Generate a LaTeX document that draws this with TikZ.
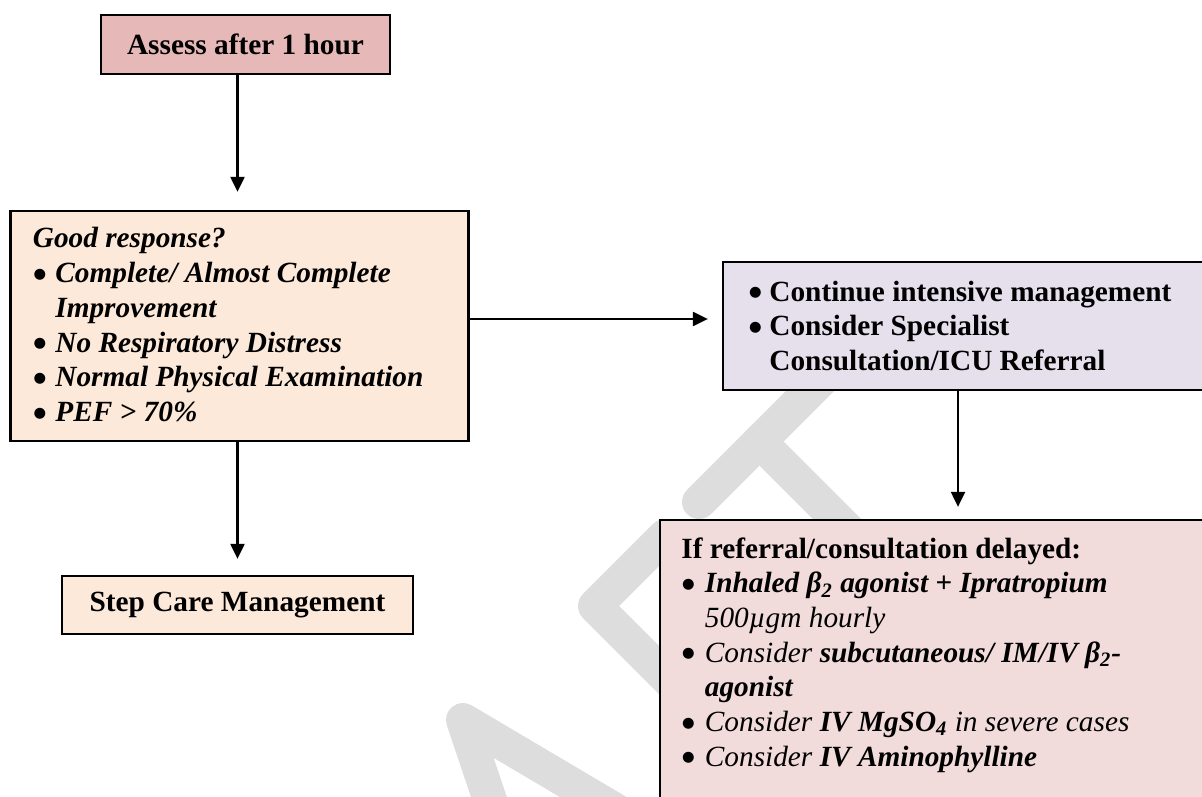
\documentclass[tikz,border=0pt]{standalone}
\usepackage{fontspec}
\setmainfont{Liberation Serif}
\newfontfamily\bulletfont{DejaVu Sans}
\usetikzlibrary{arrows.meta}
\definecolor{boxrose}{RGB}{230,184,183}
\definecolor{boxpeach}{RGB}{253,233,217}
\definecolor{boxlilac}{RGB}{229,224,236}
\definecolor{boxpink}{RGB}{242,220,219}
\definecolor{wmgray}{RGB}{221,221,221}
% bullet followed by the hanging indent of a list line
\newcommand{\itm}[1][11pt]{\makebox[#1][l]{\hspace*{0.4pt}\raisebox{2.2pt}{\bulletfont\fontsize{7.2pt}{8pt}\selectfont ●}}}
\begin{document}
\begin{tikzpicture}[x=0.5pt,y=-0.5pt,
  every node/.style={font=\fontsize{14.65pt}{17.35pt}\selectfont},
  box/.style={draw=black, line width=1.15pt, rectangle, inner sep=0pt},
  conn/.style={line width=1.1pt, -{Triangle[width=7pt,length=7.5pt]}},
  wm/.style={draw=wmgray, line width=17pt, line cap=round, line join=round},
  txt/.style={anchor=base west, inner sep=0pt}]
\useasboundingbox (0,0) rectangle (1202,796);
\clip (0,0) rectangle (1202,796);

% DRAFT watermark strokes (letters A, F, T)
\draw[wm] (500,830) -- (463,720) -- (649,830);
\draw[wm] (665,536) -- (595,606) -- (720,731);
\draw[wm] (699,502) -- (835,366);
\draw[wm] (759.5,441.5) -- (880,562);

% boxes
\node[box, fill=boxrose, minimum width=144.5pt, minimum height=29.5pt] (b1) at (245.5,44.5) {\textbf{Assess after 1 hour}};
\node[box, fill=boxpeach, minimum width=229pt, minimum height=115pt] (b2) at (239.5,326) {};
\node[box, fill=boxlilac, minimum width=258.5pt, minimum height=64pt] (b3) at (981.5,326) {};
\node[box, fill=boxpink, minimum width=290pt, minimum height=155pt] (b4) at (950,675) {};
\node[box, fill=boxpeach, minimum width=175.5pt, minimum height=29pt] (b5) at (237.5,605) {\textbf{Step Care Management}};

% box contents
\node[txt] (t2) at (32.5,248) {\begin{tabular}[t]{@{}l@{}}
\textbf{\textit{Good response?}}\\
\itm[11.25pt]\textbf{\textit{Complete/ Almost Complete}}\\
\hspace*{11.25pt}\textbf{\textit{Improvement}}\\
\itm[11.25pt]\textbf{\textit{No Respiratory Distress}}\\
\itm[11.25pt]\textbf{\textit{Normal Physical Examination}}\\
\itm[11.25pt]\textbf{\textit{PEF > 70\%}}
\end{tabular}};

\node[txt] (t3) at (748,301) {\begin{tabular}[t]{@{}l@{}}
\itm[10.5pt]\textbf{Continue intensive management}\\
\itm[10.5pt]\textbf{Consider Specialist}\\
\hspace*{10.5pt}\textbf{Consultation/ICU Referral}
\end{tabular}};

\node[txt] (t4) at (681,558) {\begin{tabular}[t]{@{}l@{}}
\textbf{If referral/consultation delayed:}\\
\itm[11.75pt]\textbf{\textit{Inhaled β\textsubscript{2} agonist + Ipratropium}}\\
\hspace*{11.75pt}\textit{500µgm hourly}\\
\itm[11.75pt]\textit{Consider} \textbf{\textit{subcutaneous/ IM/IV β\textsubscript{2}-}}\\
\hspace*{11.75pt}\textbf{\textit{agonist}}\\
\itm[11.75pt]\textit{Consider} \textbf{\textit{IV MgSO\textsubscript{4}}} \textit{in severe cases}\\
\itm[11.75pt]\textit{Consider} \textbf{\textit{IV Aminophylline}}
\end{tabular}};

% connectors
\coordinate (s2) at ([yshift=3.5pt]b2.east);
\coordinate (c3) at (958,450);
\draw[conn, shorten >=9pt] (b1.south -| b5.north) -- (b2.north -| b5.north);
\draw[conn, shorten >=7pt] (s2) -- (s2 -| b3.west);
\draw[conn, shorten >=6pt] (b3.south -| c3) -- (b4.north -| c3);
\draw[conn, shorten >=8pt] (b2.south -| b5.north) -- (b5.north);
\end{tikzpicture}
\end{document}
